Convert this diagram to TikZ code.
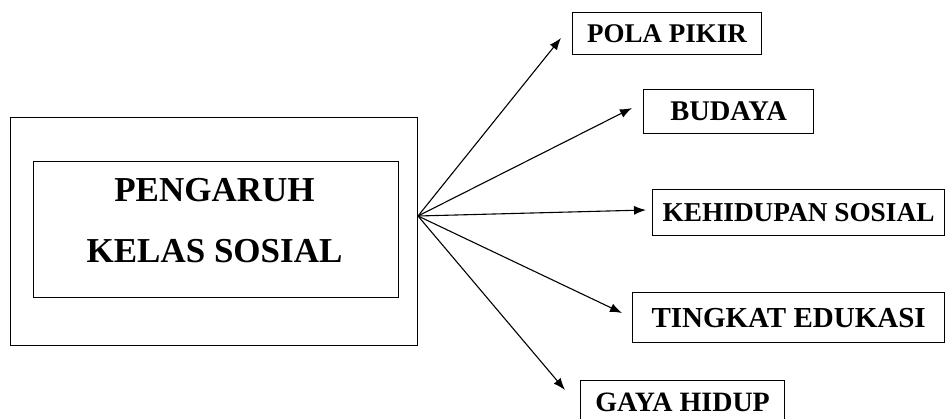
\documentclass[tikz,border=0pt]{standalone}
\usepackage{fontspec}
\setmainfont{Liberation Serif}
\usetikzlibrary{arrows.meta,calc}
\begin{document}
\begin{tikzpicture}[x=1pt,y=-1pt,
  box/.style={draw=black,line width=1.2pt,inner sep=0pt,anchor=north west},
  big/.style={font=\fontsize{35}{35}\selectfont\bfseries,inner sep=0pt},
  small/.style={font=\fontsize{#1}{#1}\selectfont\bfseries,inner sep=0pt},
  small/.default=27.5,
  arr/.style={line width=1.1pt,-{Latex[length=12pt,width=9pt]}}]
\useasboundingbox (0,0) rectangle (947,419);
\fill[white] (0,0) rectangle (947,419);
% left boxes
\node[box,minimum width=407pt,minimum height=228pt] (outer) at (10,117) {};
\node[box,minimum width=365pt,minimum height=136pt] (inner) at (33,161) {};
\node[big] (t1) at (214.5,190) {PENGARUH};
\node[big] (t2) at (214.5,251) {KELAS SOSIAL};
% right boxes
\node[box,minimum width=189pt,minimum height=42pt] (pola) at (572,12) {};
\node[small=27] at (pola.center) {POLA PIKIR};
\node[box,minimum width=170pt,minimum height=44pt] (budaya) at (643,89) {};
\node[small=28.5] at (budaya.center) {BUDAYA};
\node[box,minimum width=292pt,minimum height=46pt] (kehid) at (652,189) {};
\node[small=27.3] at (kehid.center) {KEHIDUPAN SOSIAL};
\node[box,minimum width=312pt,minimum height=50pt] (tingkat) at (632,292) {};
\node[small=29] at (tingkat.center) {TINGKAT EDUKASI};
\node[box,minimum width=204pt,minimum height=46pt] (gaya) at (580,380) {};
\node[small=28] at ($(gaya.center)+(0,-1)$) {GAYA HIDUP};
% connectors
\coordinate (o) at (418,216);
\coordinate (tpola) at (561,38);
\coordinate (tbud) at (632,108);
\coordinate (tkeh) at (646,210);
\coordinate (tting) at (622,313);
\coordinate (tgaya) at (565,390);
\draw[arr] (o) -- (tpola);
\draw[arr] (o) -- (tbud);
\draw[arr] (o) -- (tkeh);
\draw[arr] (o) -- (tting);
\draw[arr] (o) -- (tgaya);
\end{tikzpicture}
\end{document}
